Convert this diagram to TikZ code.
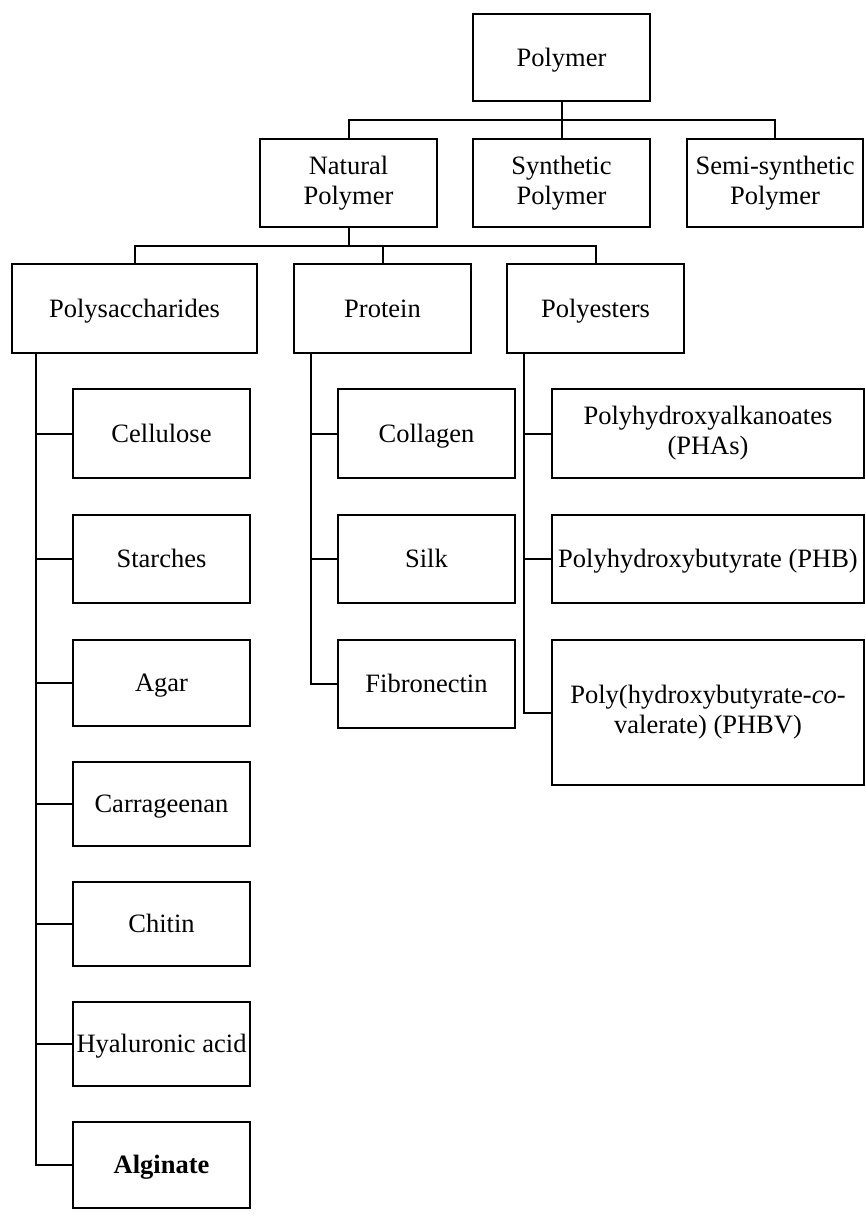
\documentclass[tikz,border=0pt]{standalone}
\usepackage{fontspec}
\setmainfont{Liberation Serif}
\begin{document}
\begin{tikzpicture}[x=1pt,y=-1pt,
  boxbase/.style={draw, line width=2pt, rectangle, inner sep=0pt, align=center,
    font=\fontsize{26.5}{30}\selectfont},
  box/.style={boxbase, text height=17.5pt, text depth=0pt},
  boxtwo/.style={boxbase},
  link/.style={line width=2pt}]
\useasboundingbox (0,0) rectangle (865,1226);
% top levels
\node[box, minimum width=177pt, minimum height=87pt] (polymer) at (561.5,57.5) {Polymer};
\node[boxtwo, minimum width=177pt, minimum height=88pt] (natural) at (348.5,183) {Natural\\Polymer};
\node[boxtwo, minimum width=177pt, minimum height=88pt] (synth) at (561.5,183) {Synthetic\\Polymer};
\node[boxtwo, minimum width=176pt, minimum height=88pt] (semi) at (775,183) {Semi-synthetic\\Polymer};
\node[box, minimum width=245pt, minimum height=89pt] (psac) at (134.5,308.5) {Polysaccharides};
\node[box, minimum width=177pt, minimum height=89pt] (prot) at (382.5,308.5) {Protein};
\node[box, minimum width=177pt, minimum height=89pt] (pest) at (595.5,308.5) {Polyesters};
% polysaccharides leaves
\node[box, minimum width=177pt, minimum height=89pt] (cell) at (161.5,433.5) {Cellulose};
\node[box, minimum width=177pt, minimum height=88pt] (starch) at (161.5,559) {Starches};
\node[box, minimum width=177pt, minimum height=86pt] (agar) at (161.5,683) {Agar};
\node[box, minimum width=177pt, minimum height=84pt] (carr) at (161.5,804) {Carrageenan};
\node[box, minimum width=177pt, minimum height=84pt] (chitin) at (161.5,924) {Chitin};
\node[box, minimum width=177pt, minimum height=84pt] (hya) at (161.5,1044) {Hyaluronic acid};
\node[box, minimum width=177pt, minimum height=86pt] (alg) at (161.5,1165) {\bfseries Alginate};
% protein leaves
\node[box, minimum width=177pt, minimum height=89pt] (coll) at (426.5,433.5) {Collagen};
\node[box, minimum width=177pt, minimum height=88pt] (silk) at (426.5,559) {Silk};
\node[box, minimum width=177pt, minimum height=88pt] (fib) at (426.5,684) {Fibronectin};
% polyester leaves
\node[boxtwo, minimum width=312pt, minimum height=89pt] (pha) at (708,433.5) {Polyhydroxyalkanoates\\(PHAs)};
\node[box, minimum width=312pt, minimum height=88pt] (phb) at (708,559) {Polyhydroxybutyrate (PHB)};
\node[boxtwo, minimum width=312pt, minimum height=145pt] (phbv) at (708,712.5) {Poly(hydroxybutyrate-\textit{co}-\\valerate) (PHBV)};
% connectors level 1
\coordinate (h1) at (561.5,120);
\draw[link] (polymer.south) -- (synth.north);
\draw[link] (h1) -| (natural.north);
\draw[link] (h1) -| (semi.north);
% connectors level 2
\coordinate (h2) at (348.5,246);
\draw[link] (natural.south) -- (h2);
\draw[link] (h2) -| (psac.north);
\draw[link] (h2) -| (prot.north);
\draw[link] (h2) -| (pest.north);
% trunks
\coordinate (t1) at ([xshift=25pt]psac.south west);
\coordinate (t2) at ([xshift=18pt]prot.south west);
\coordinate (t3) at ([xshift=18pt]pest.south west);
\foreach \leaf in {cell,starch,agar,carr,chitin,hya,alg}
  \draw[link] (t1) |- (\leaf.west);
\foreach \leaf in {coll,silk,fib}
  \draw[link] (t2) |- (\leaf.west);
\foreach \leaf in {pha,phb,phbv}
  \draw[link] (t3) |- (\leaf.west);
\end{tikzpicture}
\end{document}
